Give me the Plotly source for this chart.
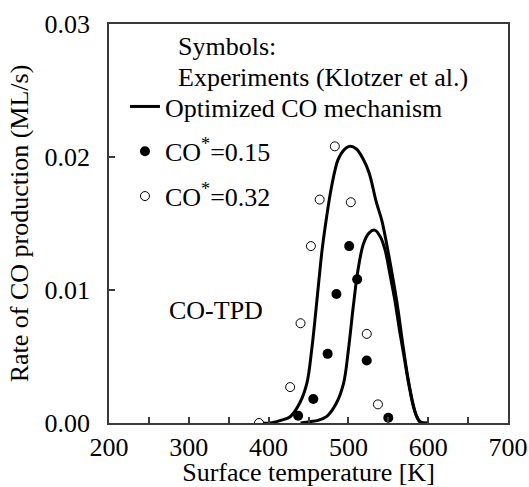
import plotly.graph_objects as go

# ---- data ----
# Model curve for CO*=0.32 (large peak)
model_hi_T = [388, 402, 415, 427, 439, 448, 454, 458, 463, 467, 471, 479, 487, 494, 502,
              510, 518, 526, 535, 542, 550, 556, 562, 568, 574, 580, 585, 590, 600]
model_hi_R = [0.0, 0.0, 0.0002, 0.00047, 0.0015, 0.003, 0.0055, 0.0077, 0.0107, 0.0130,
              0.0148, 0.0178, 0.0198, 0.0205, 0.0208, 0.0206, 0.0199, 0.0188, 0.0166,
              0.0152, 0.0128, 0.0108, 0.0086, 0.0060, 0.0036, 0.0017, 0.0006, 0.0001, 0.0]

# Model curve for CO*=0.15 (small peak)
model_lo_T = [440, 452, 462, 473, 485, 494, 500, 506, 512, 519, 526, 533, 540, 546,
              552, 558, 564, 570, 576, 582, 587, 591, 600]
model_lo_R = [0.0, 0.0001, 0.0002, 0.0005, 0.0015, 0.003, 0.0055, 0.0087, 0.0115,
              0.0135, 0.0143, 0.0145, 0.0140, 0.0130, 0.0112, 0.0093, 0.0070, 0.0049,
              0.0028, 0.0011, 0.0003, 0.0, 0.0]

# Experiments, CO*=0.15 (filled)
exp_lo_T = [437, 456, 474, 485, 501, 511, 523, 550]
exp_lo_R = [0.00055, 0.0018, 0.0052, 0.0097, 0.0133, 0.0108, 0.0047, 0.0004]

# Experiments, CO*=0.32 (open)
exp_hi_T = [388, 427, 440, 453, 464, 483, 503, 523, 537]
exp_hi_R = [0.0, 0.0027, 0.0075, 0.0133, 0.0168, 0.0208, 0.0166, 0.0067, 0.0014]

x_ticks = [200, 300, 400, 500, 600, 700]
y_ticks = [0.00, 0.01, 0.02, 0.03]

FONT = "Liberation Serif, Times New Roman, serif"
AX = "#3a3a3a"

fig = go.Figure()
fig.add_trace(go.Scatter(x=model_hi_T, y=model_hi_R, mode="lines",
                         line=dict(color="black", width=3, shape="spline", smoothing=1.0),
                         name="Optimized CO mechanism", legendgroup="a"))
fig.add_trace(go.Scatter(x=model_lo_T, y=model_lo_R, mode="lines",
                         line=dict(color="black", width=3, shape="spline", smoothing=1.0),
                         showlegend=False, legendgroup="a"))
fig.add_trace(go.Scatter(x=exp_lo_T, y=exp_lo_R, mode="markers",
                         marker=dict(color="black", size=10, symbol="circle"),
                         name="CO<sup>*</sup>=0.15", legendgroup="b"))
fig.add_trace(go.Scatter(x=exp_hi_T, y=exp_hi_R, mode="markers",
                         marker=dict(color="white", size=9, symbol="circle",
                                     line=dict(color="black", width=1)),
                         name="CO<sup>*</sup>=0.32", legendgroup="c"))

axis_common = dict(showline=True, linecolor=AX, linewidth=1.5, mirror=True,
                   ticks="inside", ticklen=6, tickcolor=AX, tickwidth=1.5,
                   showgrid=False, zeroline=False, automargin=True,
                   tickfont=dict(family=FONT, size=26, color="black"))

fig.update_xaxes(range=[200, 700], tickvals=x_ticks,
                 minor=dict(ticks="inside", ticklen=6, tickcolor=AX, tickwidth=1.5, dtick=50),
                 title=dict(text="Surface temperature [K]", font=dict(family=FONT, size=26, color="black"),
                            standoff=4),
                 **axis_common)
fig.update_yaxes(range=[0, 0.03], tickvals=y_ticks, tickformat=".2f",
                 title=dict(text="Rate of CO production (ML/s)", font=dict(family=FONT, size=26, color="black"),
                            standoff=8),
                 ticklabelstandoff=12, **axis_common)

fig.update_layout(
    width=529, height=487,
    margin=dict(l=109, r=21, t=24, b=64, autoexpand=False),
    paper_bgcolor="white", plot_bgcolor="white",
    font=dict(family=FONT, size=26, color="black"),
    showlegend=True,
    legend=dict(x=0.04, y=0.852, xanchor="left", yanchor="top",
                bgcolor="rgba(0,0,0,0)", traceorder="grouped", tracegroupgap=8,
                font=dict(family=FONT, size=26, color="black")),
    annotations=[
        dict(text="Symbols:", x=0.168, y=0.9424, xref="paper", yref="paper",
             xanchor="left", yanchor="middle", showarrow=False,
             font=dict(family=FONT, size=26, color="black")),
        dict(text="Experiments (Klotzer et al.)", x=0.168, y=0.8647, xref="paper", yref="paper",
             xanchor="left", yanchor="middle", showarrow=False,
             font=dict(family=FONT, size=26, color="black")),
        dict(text="CO-TPD", x=0.1454, y=0.2832, xref="paper", yref="paper",
             xanchor="left", yanchor="middle", showarrow=False,
             font=dict(family=FONT, size=26, color="black")),
    ],
)

fig.write_html(
    "out.html",
    config={"displayModeBar": False},
    post_script="document.body.style.margin='0px';"
                "document.documentElement.style.overflow='hidden';",
)
